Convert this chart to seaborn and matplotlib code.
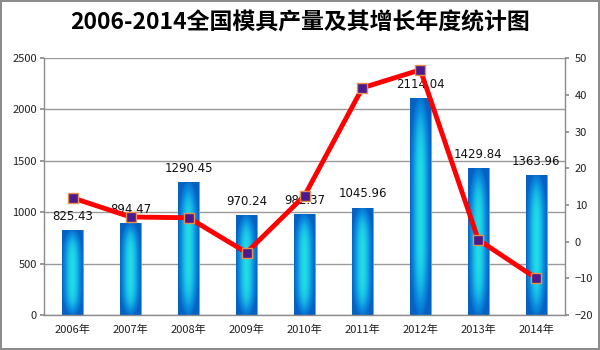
import numpy as np
import pandas as pd
import matplotlib
matplotlib.use("Agg")
import matplotlib.pyplot as plt
from matplotlib.colors import LinearSegmentedColormap
import seaborn as sns

years = ["2006年", "2007年", "2008年", "2009年", "2010年", "2011年", "2012年", "2013年", "2014年"]
output = [825.43, 894.47, 1290.45, 970.24, 982.37, 1045.96, 2114.04, 1429.84, 1363.96]
growth = [11.9, 6.7, 6.5, -3.0, 12.5, 41.9, 46.8, 0.5, -10.0]
left_ticks = [0, 500, 1000, 1500, 2000, 2500]
right_ticks = [-20, -10, 0, 10, 20, 30, 40, 50]
title = "2006-2014全国模具产量及其增长年度统计图"

sns.set_theme(style="white")
plt.rcParams['font.family'] = ['Noto Sans CJK SC', 'DejaVu Sans']

df = pd.DataFrame({"year": years, "output": output, "growth": growth})

fig = plt.figure(figsize=(6, 3.5), dpi=100)
fig.patch.set_facecolor("white")
fig.patch.set_edgecolor("#8c8c8c")
fig.patch.set_linewidth(1.5)
ax = fig.add_axes([0.073, 0.10, 0.869, 0.734])

sns.barplot(data=df, x="year", y="output", ax=ax, width=0.36, color="#0a78d8",
            edgecolor="#5aa8e8", linewidth=0.6, zorder=2)

# gradient fill on each bar
cmap = LinearSegmentedColormap.from_list("g", ["#22dde6", "#0b8ee0", "#0561c2"])
nx, ny = 40, 120
gx = np.abs(np.linspace(-1, 1, nx))
gy = np.abs(np.linspace(-1, 1, ny))
GX, GY = np.meshgrid(gx, gy)
F = np.clip(GX ** 1.7 * 0.95 + GY ** 4 * 0.8, 0, 1)
for p in list(ax.patches):
    x0, y0 = p.get_x(), p.get_y()
    w, h = p.get_width(), p.get_height()
    im = ax.imshow(F, cmap=cmap, vmin=0, vmax=1, extent=[x0, x0 + w, y0, y0 + h],
                   aspect="auto", zorder=2.5, interpolation="bilinear")
    im.set_clip_path(p)

ax.set_xlim(-0.5, len(years) - 0.5)
ax.set_ylim(0, 2500)
ax.set_yticks(left_ticks)
ax.set_xlabel("")
ax.set_ylabel("")
ax.yaxis.grid(True, color="#9a9a9a", linewidth=1)
ax.set_axisbelow(True)
for s in ["top", "right"]:
    ax.spines[s].set_visible(False)
for s in ["left", "bottom"]:
    ax.spines[s].set_color("#8c8c8c")
    ax.spines[s].set_linewidth(1)
ax.tick_params(axis="y", labelsize=8, colors="#222222", length=3, direction="out",
               color="#8c8c8c", left=True, pad=2)
ax.tick_params(axis="x", labelsize=8, colors="#222222", length=0, pad=7)

for i, v in enumerate(output):
    ax.text(i, v + 70, f"{v:.2f}", ha="center", va="bottom", fontsize=8.5,
            color="#111111", family=["DejaVu Sans"], zorder=3)

ax2 = ax.twinx()
sns.pointplot(data=df, x="year", y="growth", ax=ax2, color="#ff0000", markers="s",
              linestyles="-", linewidth=3.5, markersize=6.5,
              markerfacecolor="#4a1a8e", markeredgecolor="#e8904a",
              markeredgewidth=1.0, errorbar=None)
ax2.set_xlim(-0.5, len(years) - 0.5)
ax2.set_ylim(-20, 50)
ax2.set_yticks(right_ticks)
ax2.set_ylabel("")
ax2.set_xlabel("")
ax2.grid(False)
for s in ["top", "left", "bottom"]:
    ax2.spines[s].set_visible(False)
ax2.spines["right"].set_color("#8c8c8c")
ax2.spines["right"].set_linewidth(1)
ax2.tick_params(axis="y", labelsize=8, colors="#222222", length=3, direction="out",
                color="#8c8c8c", right=True, pad=4)

fig.text(0.5, 0.935, title, ha="center", va="center", fontsize=16.5, fontweight="bold",
         color="#000000")

fig.savefig("out.png", dpi=100, edgecolor=fig.get_edgecolor())
